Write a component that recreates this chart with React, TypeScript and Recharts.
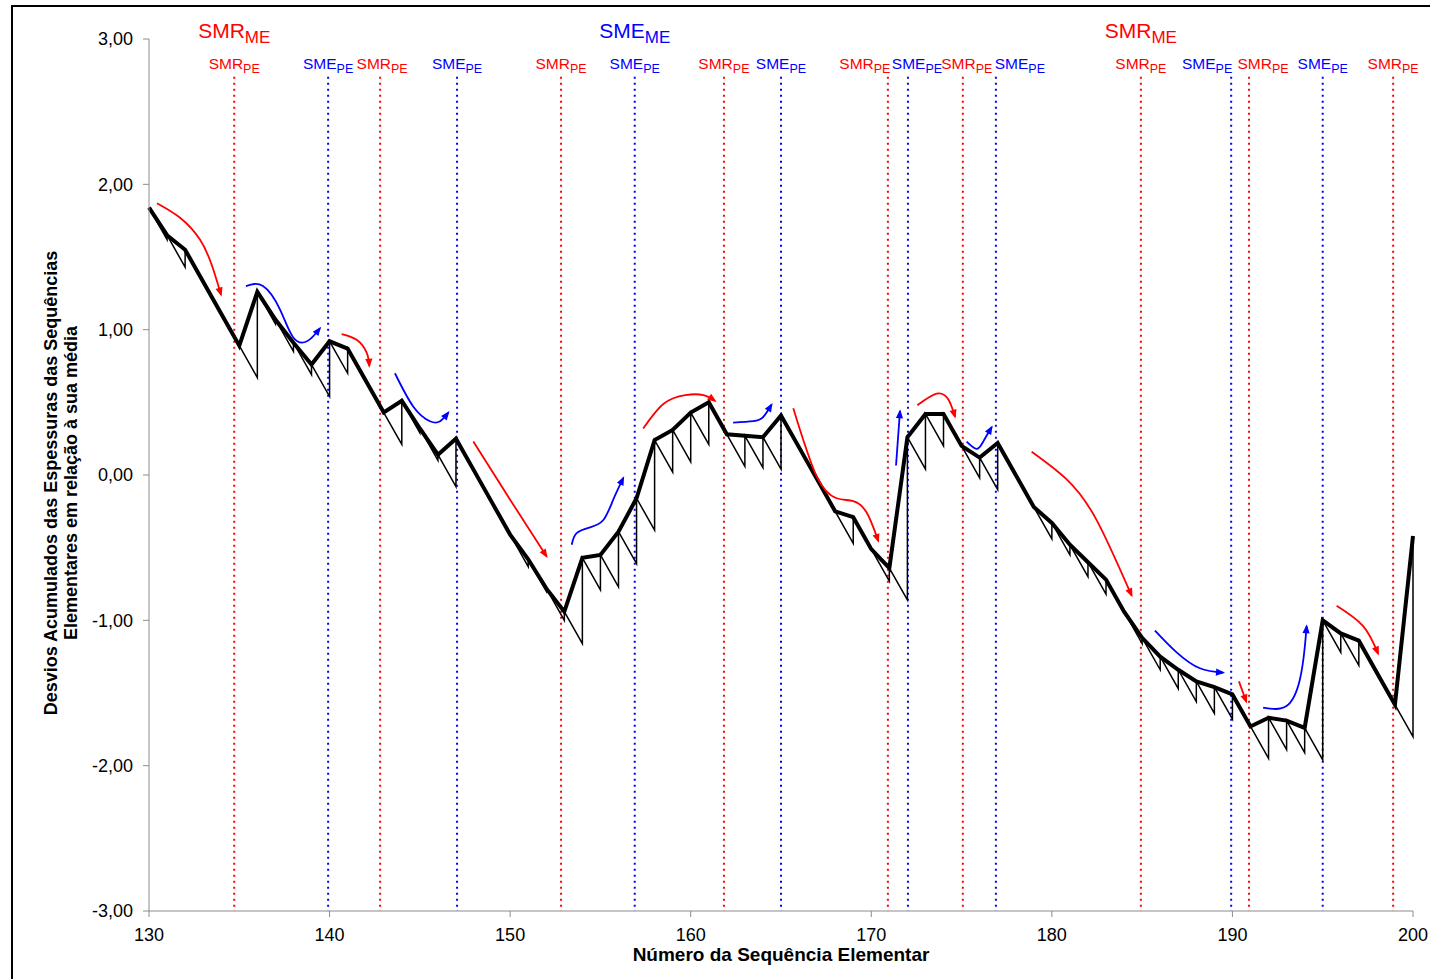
import React from "react";
import { LineChart, Line, XAxis, YAxis, ReferenceLine } from "recharts";

// sequence numbers on the x axis
const firstSeq = 130;
// cumulative deviation of the element thicknesses (one value per sequence 130..200)
const cumulativeDev = [
  1.84, 1.65, 1.55, 1.33, 1.11, 0.89, 1.26, 1.07, 0.91, 0.76,
  0.92, 0.87, 0.65, 0.43, 0.51, 0.32, 0.14, 0.25, 0.03, -0.19,
  -0.41, -0.58, -0.78, -0.94, -0.57, -0.55, -0.39, -0.16, 0.24, 0.31,
  0.43, 0.5, 0.28, 0.27, 0.26, 0.41, 0.19, -0.03, -0.25, -0.29,
  -0.51, -0.64, 0.26, 0.42, 0.42, 0.2, 0.12, 0.22, 0.0, -0.22,
  -0.33, -0.48, -0.6, -0.72, -0.94, -1.12, -1.25, -1.34, -1.42, -1.46,
  -1.51, -1.73, -1.67, -1.69, -1.74, -1.0, -1.09, -1.14, -1.36, -1.58,
  -0.42,
];
// mean thickness subtracted at every step (drop of the thin saw line)
const meanStep = 0.22;

const xTicks = [130, 140, 150, 160, 170, 180, 190, 200];
const yTicks = [-3, -2, -1, 0, 1, 2, 3];

// dotted marker lines
const smrLines = [134.72, 142.8, 152.82, 161.84, 170.92, 175.07, 184.93, 190.92, 198.9];
const smeLines = [139.92, 147.06, 156.9, 165.0, 172.03, 176.9, 189.93, 195.0];
const smrBig = [134.72, 184.93];
const smeBig = [156.9];
const markerTop = 2.74;
// small px nudges of the PE labels where lines are crowded
const smrLabelShift = [0, 2, 0, 0, -23, 4, 0, 14, 0];
const smeLabelShift = [0, 0, 0, 0, 9, 24, -24, 0];

// curved annotation arrows, [x, y] in data units
const redArrows = [
  [[130.44, 1.87], [131.72, 1.77], [132.82, 1.62], [133.49, 1.44], [133.99, 1.24]],
  [[140.67, 0.97], [141.5, 0.93], [142.06, 0.84], [142.2, 0.75]],
  [[147.96, 0.23], [150.0, -0.17], [152.02, -0.56]],
  [[157.37, 0.32], [158.5, 0.49], [159.7, 0.55], [160.7, 0.55], [161.35, 0.51]],
  [[165.68, 0.46], [166.98, -0.01], [168.08, -0.16], [169.0, -0.18], [169.75, -0.26], [170.39, -0.455]],
  [[172.55, 0.48], [173.62, 0.56], [174.27, 0.52], [174.64, 0.4]],
  [[178.88, 0.16], [180.82, -0.03], [182.48, -0.31], [184.42, -0.83]],
  [[190.36, -1.42], [190.77, -1.56]],
  [[195.77, -0.9], [197.24, -1.04], [198.07, -1.23]],
];
const blueArrows = [
  [[135.37, 1.3], [136.31, 1.3], [137.25, 1.14], [137.97, 0.95], [138.75, 0.92], [139.47, 1.01]],
  [[143.62, 0.7], [144.64, 0.47], [145.56, 0.37], [146.12, 0.37], [146.58, 0.43]],
  [[153.41, -0.48], [153.68, -0.4], [154.42, -0.36], [155.16, -0.31], [155.71, -0.17], [156.27, -0.02]],
  [[162.35, 0.36], [163.46, 0.37], [164.02, 0.4], [164.48, 0.485]],
  [[171.37, 0.065], [171.59, 0.44]],
  [[175.28, 0.23], [175.83, 0.18], [176.2, 0.23], [176.67, 0.33]],
  [[185.71, -1.07], [186.91, -1.22], [188.2, -1.33], [189.49, -1.36]],
  [[191.7, -1.6], [192.99, -1.59], [193.73, -1.41], [194.01, -1.18], [194.11, -1.04]],
];

const RED = "#ff0000";
const BLUE = "#0000ff";
const FONT = "'Liberation Sans', Arial, sans-serif";

const thickData = cumulativeDev.map((y, i) => ({ x: firstSeq + i, y }));

// thin saw line: previous value minus the mean, then up to the new value
const thinData: { x: number; y: number }[] = [{ x: firstSeq, y: cumulativeDev[0] }];
for (let i = 1; i < cumulativeDev.length; i++) {
  thinData.push({ x: firstSeq + i, y: cumulativeDev[i - 1] - meanStep });
  thinData.push({ x: firstSeq + i, y: cumulativeDev[i] });
}

const fmt = (v: number) => v.toFixed(2).replace(".", ",");

const markerLabel = (name: string, color: string, big: boolean, shift: number) => (props: any) => {
  const vb = props.viewBox || {};
  const cx = (vb.x || 0) + (vb.width || 0) / 2;
  const top = vb.y || 0;
  return (
    <g>
      <text x={cx + shift} y={top - 8} textAnchor="middle" fill={color} fontFamily={FONT} fontSize={15.5}>
        <tspan>{name}</tspan>
        <tspan fontSize={12.5} dy={4}>PE</tspan>
      </text>
      {big && (
        <text x={cx} y={top - 39} textAnchor="middle" fill={color} fontFamily={FONT} fontSize={21}>
          <tspan>{name}</tspan>
          <tspan fontSize={17} dy={5}>ME</tspan>
        </text>
      )}
    </g>
  );
};

const YTitle = (props: any) => {
  const vb = props.viewBox || {};
  const cy = vb.y + vb.height / 2 + 8;
  return (
    <g fontFamily={FONT} fontWeight="bold" fontSize={18} fill="#000">
      <text x={57} y={cy} textAnchor="middle" transform={`rotate(-90 57 ${cy})`}>
        Desvios Acumulados das Espessuras das Sequências
      </text>
      <text x={77} y={cy} textAnchor="middle" transform={`rotate(-90 77 ${cy})`}>
        Elementares em relação à sua média
      </text>
    </g>
  );
};

const XTitle = (props: any) => {
  const vb = props.viewBox || {};
  return (
    <text
      x={vb.x + vb.width / 2}
      y={vb.y + 50}
      textAnchor="middle"
      fontFamily={FONT}
      fontWeight="bold"
      fontSize={19}
      fill="#000"
    >
      Número da Sequência Elementar
    </text>
  );
};

export default function App() {
  return (
    <div style={{ position: "absolute", left: 0, top: 0, width: 1430, height: 979, background: "#fff" }}>
      <div style={{ position: "absolute", left: 11, top: 5, width: 1419, height: 2, background: "#000" }} />
      <div style={{ position: "absolute", left: 11, top: 5, width: 2, height: 974, background: "#000" }} />
      <LineChart width={1430} height={979} margin={{ top: 39, right: 17, bottom: 0, left: 0 }}>
        <defs>
          <marker id="arrow-red" viewBox="0 0 10 10" refX="8" refY="5" markerWidth="10" markerHeight="9"
            markerUnits="userSpaceOnUse" orient="auto">
            <path d="M0,1 L10,5 L0,9 z" fill={RED} />
          </marker>
          <marker id="arrow-blue" viewBox="0 0 10 10" refX="8" refY="5" markerWidth="10" markerHeight="9"
            markerUnits="userSpaceOnUse" orient="auto">
            <path d="M0,1 L10,5 L0,9 z" fill={BLUE} />
          </marker>
        </defs>
        <XAxis
          type="number"
          dataKey="x"
          domain={[130, 200]}
          ticks={xTicks}
          height={68}
          stroke="#8c8c8c"
          tickSize={6}
          tickMargin={11}
          tick={{ fill: "#000", fontSize: 18, fontFamily: FONT }}
          label={<XTitle />}
        />
        <YAxis
          type="number"
          domain={[-3, 3]}
          ticks={yTicks}
          width={149}
          stroke="#8c8c8c"
          tickSize={6}
          tickMargin={10}
          tickFormatter={fmt}
          tick={{ fill: "#000", fontSize: 18, fontFamily: FONT }}
          label={<YTitle />}
        />
        {smrLines.map((x, i) => (
          <ReferenceLine
            key={"r" + x}
            segment={[{ x, y: markerTop }, { x, y: -3 }]}
            stroke={RED}
            strokeWidth={2}
            strokeDasharray="2 4"
            label={markerLabel("SMR", RED, smrBig.includes(x), smrLabelShift[i])}
          />
        ))}
        {smeLines.map((x, i) => (
          <ReferenceLine
            key={"b" + x}
            segment={[{ x, y: markerTop }, { x, y: -3 }]}
            stroke={BLUE}
            strokeWidth={2}
            strokeDasharray="2 4"
            label={markerLabel("SME", BLUE, smeBig.includes(x), smeLabelShift[i])}
          />
        ))}
        <Line
          data={thinData}
          dataKey="y"
          type="linear"
          stroke="#000"
          strokeWidth={1.5}
          dot={false}
          isAnimationActive={false}
        />
        <Line
          data={thickData}
          dataKey="y"
          type="linear"
          stroke="#000"
          strokeWidth={4}
          dot={false}
          isAnimationActive={false}
        />
        {redArrows.map((pts, i) => (
          <Line
            key={"ra" + i}
            data={pts.map(([x, y]) => ({ x, y }))}
            dataKey="y"
            type="natural"
            stroke={RED}
            strokeWidth={1.8}
            dot={false}
            markerEnd="url(#arrow-red)"
            isAnimationActive={false}
          />
        ))}
        {blueArrows.map((pts, i) => (
          <Line
            key={"ba" + i}
            data={pts.map(([x, y]) => ({ x, y }))}
            dataKey="y"
            type="natural"
            stroke={BLUE}
            strokeWidth={1.8}
            dot={false}
            markerEnd="url(#arrow-blue)"
            isAnimationActive={false}
          />
        ))}
      </LineChart>
    </div>
  );
}
